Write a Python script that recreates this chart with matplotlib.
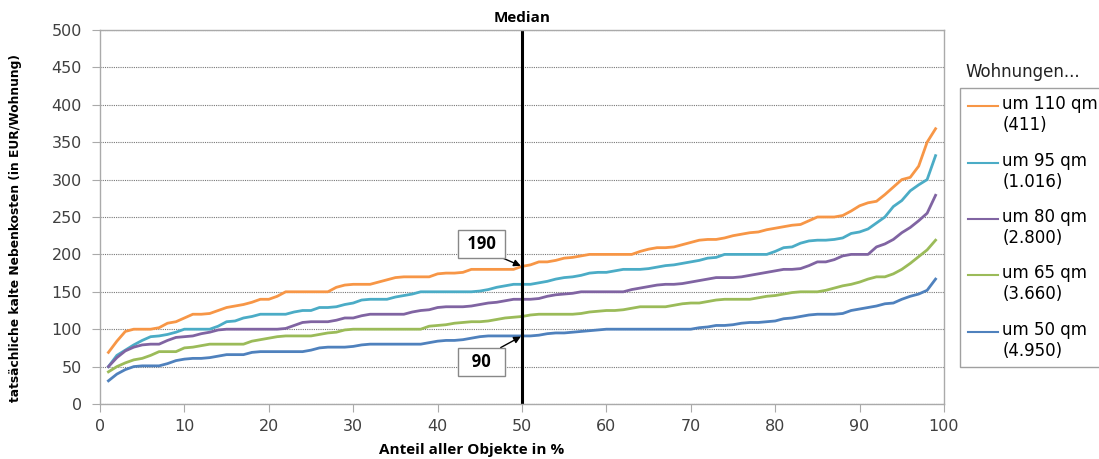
import matplotlib
matplotlib.use('Agg')
import matplotlib.pyplot as plt
import numpy as np

# Perzentile 1..99
perzentil = np.arange(1, 100)

qm110 = [69, 84, 97, 100, 100, 100, 102, 108, 110, 115, 120, 120, 121, 125, 129, 131, 133, 136, 140, 140,
         144, 150, 150, 150, 150, 150, 150, 156, 159, 160, 160, 160, 163, 166, 169, 170, 170, 170, 170, 174,
         175, 175, 176, 180, 180, 180, 180, 180, 180, 184, 186, 190, 190, 192, 195, 196, 198, 200, 200, 200,
         200, 200, 200, 204, 207, 209, 209, 210, 213, 216, 219, 220, 220, 222, 225, 227, 229, 230, 233, 235,
         237, 239, 240, 245, 250, 250, 250, 252, 258, 265, 269, 271, 280, 290, 300, 303, 318, 350, 368]
qm95 = [50, 65, 72, 79, 85, 90, 91, 93, 96, 100, 100, 100, 100, 104, 110, 111, 115, 117, 120, 120,
        120, 120, 123, 125, 125, 129, 129, 130, 133, 135, 139, 140, 140, 140, 143, 145, 147, 150, 150, 150,
        150, 150, 150, 150, 151, 153, 156, 158, 160, 160, 160, 162, 164, 167, 169, 170, 172, 175, 176, 176,
        178, 180, 180, 180, 181, 183, 185, 186, 188, 190, 192, 195, 196, 200, 200, 200, 200, 200, 200, 204,
        209, 210, 215, 218, 219, 219, 220, 222, 228, 230, 234, 242, 250, 264, 272, 285, 293, 300, 332]
qm80 = [50, 62, 71, 76, 79, 80, 80, 85, 89, 90, 91, 94, 96, 99, 100, 100, 100, 100, 100, 100,
        100, 101, 105, 109, 110, 110, 110, 112, 115, 115, 118, 120, 120, 120, 120, 120, 123, 125, 126, 129,
        130, 130, 130, 131, 133, 135, 136, 138, 140, 140, 140, 141, 144, 146, 147, 148, 150, 150, 150, 150,
        150, 150, 153, 155, 157, 159, 160, 160, 161, 163, 165, 167, 169, 169, 169, 170, 172, 174, 176, 178,
        180, 180, 181, 185, 190, 190, 193, 198, 200, 200, 200, 210, 214, 220, 229, 236, 245, 255, 279]
qm65 = [43, 50, 55, 59, 61, 65, 70, 70, 70, 75, 76, 78, 80, 80, 80, 80, 80, 84, 86, 88,
        90, 91, 91, 91, 91, 93, 95, 96, 99, 100, 100, 100, 100, 100, 100, 100, 100, 100, 104, 105,
        106, 108, 109, 110, 110, 111, 113, 115, 116, 117, 119, 120, 120, 120, 120, 120, 121, 123, 124, 125,
        125, 126, 128, 130, 130, 130, 130, 132, 134, 135, 135, 137, 139, 140, 140, 140, 140, 142, 144, 145,
        147, 149, 150, 150, 150, 152, 155, 158, 160, 163, 167, 170, 170, 174, 180, 188, 197, 206, 219]
qm50 = [31, 40, 46, 50, 51, 51, 51, 54, 58, 60, 61, 61, 62, 64, 66, 66, 66, 69, 70, 70,
        70, 70, 70, 70, 72, 75, 76, 76, 76, 77, 79, 80, 80, 80, 80, 80, 80, 80, 82, 84,
        85, 85, 86, 88, 90, 91, 91, 91, 91, 91, 91, 92, 94, 95, 95, 96, 97, 98, 99, 100,
        100, 100, 100, 100, 100, 100, 100, 100, 100, 100, 102, 103, 105, 105, 106, 108, 109, 109, 110, 111,
        114, 115, 117, 119, 120, 120, 120, 121, 125, 127, 129, 131, 134, 135, 140, 144, 147, 152, 167]

reihen = [qm110, qm95, qm80, qm65, qm50]
labels = ["um 110 qm\n(411)", "um 95 qm\n(1.016)", "um 80 qm\n(2.800)",
          "um 65 qm\n(3.660)", "um 50 qm\n(4.950)"]
farben = ['#F79646', '#4BACC6', '#8064A2', '#9BBB59', '#4F81BD']

median_x = 50
median_werte = ["190", "90"]

fig = plt.figure(figsize=(10.99, 4.59), dpi=100)
ax = fig.add_axes([100 / 1099, 1 - 404 / 459, 844 / 1099, 374 / 459])

for werte, lab, c in zip(reihen, labels, farben):
    ax.plot(perzentil, werte, color=c, lw=2, label=lab)

ax.axvline(median_x, color='black', lw=2.2)

ax.set_xlim(0, 100)
ax.set_ylim(0, 500)
ax.set_xticks(np.arange(0, 101, 10))
ax.set_yticks(np.arange(0, 501, 50))
ax.yaxis.grid(True, color='#777777', linestyle=(0, (1, 1)), lw=0.8)
ax.set_axisbelow(True)
for s in ax.spines.values():
    s.set_color('#aaaaaa')
    s.set_linewidth(1)
ax.tick_params(colors='#aaaaaa', labelcolor='#404040', labelsize=11.5, length=6)
ax.tick_params(axis='y', pad=7)
ax.tick_params(axis='x', pad=5)
for t in ax.get_xticklabels() + ax.get_yticklabels():
    t.set_family('DejaVu Sans')

ax.set_xlabel("Anteil aller Objekte in %", fontsize=11, fontweight='bold',
              family='Open Sans')
ax.xaxis.set_label_coords(0.44, -0.105)
ax.set_ylabel("tatsächliche kalte Nebenkosten (in EUR/Wohnung)", fontsize=8.8,
              fontweight='bold', family='Liberation Sans Narrow')
ax.yaxis.set_label_coords(-0.093, 0.47)

ax.text(median_x, 507, "Median", ha='center', va='bottom', fontsize=11,
        fontweight='bold', family='Open Sans')

box = dict(boxstyle='square,pad=0.3', fc='white', ec='#888888', lw=1)
ax.annotate(f" {median_werte[0]} ", xy=(median_x, qm110[49]), xytext=(45.2, 214),
            ha='center', va='center', fontsize=12, fontweight='bold',
            family='Open Sans', bbox=box,
            arrowprops=dict(arrowstyle='-|>', color='black', lw=1, mutation_scale=10,
                            shrinkA=0, shrinkB=1, relpos=(0.75, 0)))
ax.annotate(f"  {median_werte[1]}  ", xy=(median_x, qm50[49]), xytext=(45.2, 56),
            ha='center', va='center', fontsize=12, fontweight='bold',
            family='Open Sans', bbox=box,
            arrowprops=dict(arrowstyle='-|>', color='black', lw=1, mutation_scale=10,
                            shrinkA=0, shrinkB=1, relpos=(0.75, 1)))

fig.text(965 / 1099, 1 - 72 / 459, "Wohnungen...", fontsize=12, family='DejaVu Sans',
         va='center', ha='left', color='#222222')
leg = fig.legend(loc='upper left', bbox_to_anchor=(960 / 1099, 1 - 88 / 459),
                 frameon=True, fancybox=False, edgecolor='#888888',
                 prop={'family': 'DejaVu Sans', 'size': 12},
                 handlelength=1.8, handletextpad=0.3, labelspacing=1.05,
                 borderpad=0.45, borderaxespad=0)
leg.get_frame().set_linewidth(1)
for h in leg.get_lines():
    h.set_linewidth(1.5)
    # Linie auf Höhe der ersten Textzeile
    h.set_ydata(np.asarray(h.get_ydata()) + 7)

fig.savefig("out.png", dpi=100)
plt.close(fig)
print("Saved: out.png")
